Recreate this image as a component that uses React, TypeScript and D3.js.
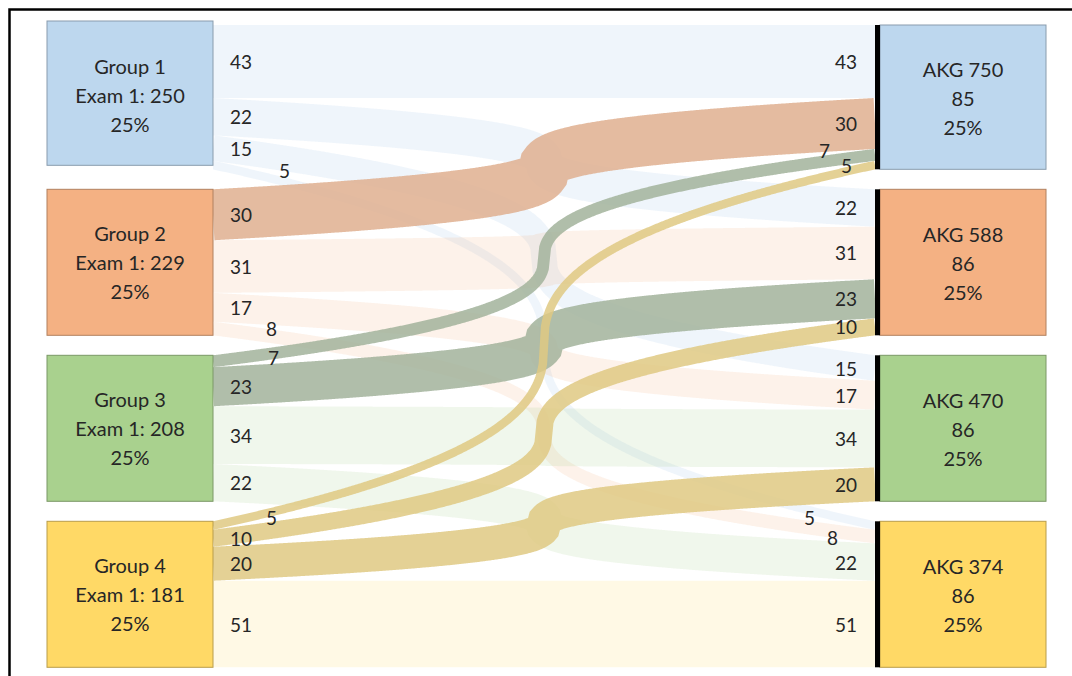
import React from "react";
import * as d3 from "d3";

// Exam-1 groups (left column)
const groupNames = ["Group 1", "Group 2", "Group 3", "Group 4"];
const groupExamScores = [250, 229, 208, 181];
const groupShares = ["25%", "25%", "25%", "25%"];

// AKG groups (right column)
const akgNames = ["AKG 750", "AKG 588", "AKG 470", "AKG 374"];
const akgShares = ["25%", "25%", "25%", "25%"];

// Students moving from each exam group to each AKG group
const flowsFromGroup1 = [43, 22, 15, 5];
const flowsFromGroup2 = [30, 31, 17, 8];
const flowsFromGroup3 = [7, 23, 34, 22];
const flowsFromGroup4 = [5, 10, 20, 51];
const flowMatrix = [flowsFromGroup1, flowsFromGroup2, flowsFromGroup3, flowsFromGroup4];

// palette
const nodeFill = ["#bdd7ee", "#f4b183", "#a9d18e", "#ffd966"];
const paleOpacity = [0.24, 0.17, 0.17, 0.17];
const strongFlow = ["#b9cde2", "#dfaf8f", "#a2b39b", "#dfc982"];

const W = 1072;
const H = 676;
const xLeft0 = 47;
const xFlow0 = 213;
const xFlow1 = 875;
const xBar1 = 880;
const xRight1 = 1046;
const yTop = 25;
const yBottom = 667.3;
const gap = 20;

// label nudges for the thin ribbons, keyed "source-target-side"
const labelNudge: Record<string, [number, number]> = {
  "0-3-L": [49, 5],
  "1-3-L": [36, 0],
  "2-0-L": [38, -4],
  "3-0-L": [36, -8.5],
  "2-0-R": [-27, -4],
  "3-0-R": [-5, 0],
  "0-3-R": [-42, -8.5],
  "1-3-R": [-19, 1],
};

export default function App() {
  const n = groupNames.length;
  const rowTotals = flowMatrix.map((r) => d3.sum(r));
  const colTotals = d3.range(n).map((t) => d3.sum(flowMatrix, (r) => r[t]));
  const total = d3.sum(rowTotals);

  const unit = d3
    .scaleLinear()
    .domain([0, total])
    .range([0, yBottom - yTop - gap * (n - 1)]);

  const stackNodes = (vals: number[]) => {
    let y = yTop;
    return vals.map((v) => {
      const y0 = y;
      const y1 = y0 + unit(v);
      y = y1 + gap;
      return { y0, y1, value: v };
    });
  };
  const leftNodes = stackNodes(rowTotals);
  const rightNodes = stackNodes(colTotals);

  type Link = { s: number; t: number; v: number; ys: number; yt: number; w: number };
  const links: Link[] = [];
  for (let s = 0; s < n; s++) {
    for (let t = 0; t < n; t++) {
      const v = flowMatrix[s][t];
      const offL = d3.sum(flowMatrix[s].slice(0, t));
      const offR = d3.sum(flowMatrix.slice(0, s), (r) => r[t]);
      const w = unit(v);
      links.push({
        s,
        t,
        v,
        w,
        ys: leftNodes[s].y0 + unit(offL) + w / 2,
        yt: rightNodes[t].y0 + unit(offR) + w / 2,
      });
    }
  }

  // ribbon centreline: gentle at the ends, steep through the middle
  const P = 0.4;
  const shape = (t: number) => {
    const u = 2 * t - 1;
    return 0.5 + 0.5 * Math.sign(u) * Math.pow(Math.abs(u), P);
  };
  const line = d3.line<[number, number]>();
  const ribbonPath = (l: Link) => {
    const pts: [number, number][] = d3.range(0, 601).map((i) => {
      const t = i / 600;
      return [xFlow0 + (xFlow1 - xFlow0) * t, l.ys + (l.yt - l.ys) * shape(t)];
    });
    return line(pts) || "";
  };

  const isUp = (l: Link) => l.t < l.s;
  const paleLinks = links.filter((l) => !isUp(l));
  const strongLinks = links.filter(isUp);

  const font = "Lato, 'Open Sans', sans-serif";
  const textColor = "#262626";

  return (
    <div style={{ position: "absolute", left: 0, top: 0, width: W, height: H, background: "#fff" }}>
      <svg width={W} height={H} style={{ display: "block" }}>
        <defs>
          <clipPath id="flowClip">
            <rect x={xFlow0} y={0} width={xFlow1 - xFlow0} height={H} />
          </clipPath>
        </defs>
        <rect x={0} y={0} width={W} height={H} fill="#fff" />

        <g clipPath="url(#flowClip)" fill="none">
          {paleLinks.map((l) => (
            <path
              key={`p${l.s}${l.t}`}
              d={ribbonPath(l)}
              stroke={nodeFill[l.s]}
              strokeOpacity={paleOpacity[l.s]}
              strokeWidth={l.w}
            />
          ))}
          {strongLinks.map((l) => (
            <path
              key={`s${l.s}${l.t}`}
              d={ribbonPath(l)}
              stroke={strongFlow[l.s]}
              strokeOpacity={0.85}
              strokeWidth={l.w}
            />
          ))}
        </g>

        {/* left nodes */}
        {leftNodes.map((nd, i) => {
          const cy = (nd.y0 + nd.y1) / 2;
          const cx = (xLeft0 + xFlow0) / 2;
          return (
            <g key={`ln${i}`}>
              <rect
                x={xLeft0}
                y={nd.y0 - (i === 0 ? 4 : 0)}
                width={xFlow0 - xLeft0}
                height={nd.y1 - nd.y0}
                fill={nodeFill[i]}
                stroke={d3.color(nodeFill[i])!.darker(0.9).formatHex()}
                strokeWidth={1}
              />
              <text x={cx} y={cy - (i === 0 ? 31 : 29)} textAnchor="middle" dominantBaseline="central" fontFamily={font} fontSize={20} fill={textColor}>
                {groupNames[i]}
              </text>
              <text x={cx} y={cy - (i === 0 ? 2 : 0)} textAnchor="middle" dominantBaseline="central" fontFamily={font} fontSize={20} fill={textColor}>
                {`Exam 1: ${groupExamScores[i]}`}
              </text>
              <text x={cx} y={cy + (i === 0 ? 27 : 29)} textAnchor="middle" dominantBaseline="central" fontFamily={font} fontSize={20} fill={textColor}>
                {groupShares[i]}
              </text>
            </g>
          );
        })}

        {/* right nodes */}
        {rightNodes.map((nd, i) => {
          const cy = (nd.y0 + nd.y1) / 2;
          const cx = (xBar1 + xRight1) / 2;
          return (
            <g key={`rn${i}`}>
              <rect
                x={xBar1}
                y={nd.y0}
                width={xRight1 - xBar1}
                height={nd.y1 - nd.y0}
                fill={nodeFill[i]}
                stroke={d3.color(nodeFill[i])!.darker(0.9).formatHex()}
                strokeWidth={1}
              />
              <rect x={xFlow1} y={nd.y0} width={xBar1 - xFlow1} height={nd.y1 - nd.y0} fill="#000" />
              <text x={cx} y={cy - 28} textAnchor="middle" dominantBaseline="central" fontFamily={font} fontSize={20} fill={textColor}>
                {akgNames[i]}
              </text>
              <text x={cx} y={cy + 1} textAnchor="middle" dominantBaseline="central" fontFamily={font} fontSize={20} fill={textColor}>
                {`${nd.value}`}
              </text>
              <text x={cx} y={cy + 30} textAnchor="middle" dominantBaseline="central" fontFamily={font} fontSize={20} fill={textColor}>
                {akgShares[i]}
              </text>
            </g>
          );
        })}

        {/* flow value labels */}
        {links.map((l) => {
          const nl = labelNudge[`${l.s}-${l.t}-L`] || [0, 0];
          const nr = labelNudge[`${l.s}-${l.t}-R`] || [0, 0];
          return (
            <g key={`lb${l.s}${l.t}`} fontFamily={font} fontSize={19} fill={textColor}>
              <text x={xFlow0 + 17 + nl[0]} y={l.ys + nl[1]} dominantBaseline="central">
                {l.v}
              </text>
              <text x={xFlow1 - 18 + nr[0]} y={l.yt + nr[1]} textAnchor="end" dominantBaseline="central">
                {l.v}
              </text>
            </g>
          );
        })}

        {/* outer frame */}
        <path d={`M9.5,${H} V9.5 H${W}`} fill="none" stroke="#000" strokeWidth={2.5} />
      </svg>
    </div>
  );
}
